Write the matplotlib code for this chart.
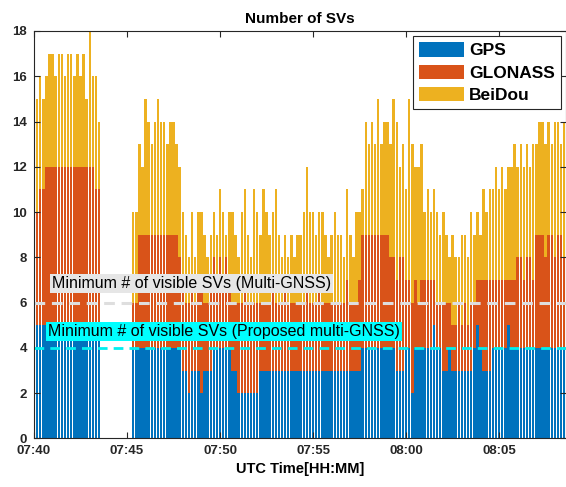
import matplotlib
matplotlib.use('Agg')
import matplotlib.pyplot as plt
import numpy as np

plt.rcParams['font.family'] = ['Liberation Sans', 'DejaVu Sans']

# one epoch every 10 s starting 07:40:00 (gap 07:43:40 - 07:45:10 = no data)
gps = [5,5,5,5,5,5,5,5,5,5, 5,5,5,5,5,5,5,5,5,5, 5,5,
       0,0,0,0,0,0,0,0,0,0,
       4,4,4,4,4,4,4,4,4,4, 4,4,4,4,4,4,3,3,2,3, 3,3,2,3,3,3,
       4,4,4,4,4,4,3,3,2,2, 2,2,2,2,2,3,3,3,3,3, 3,3,3,3,3,3,3,3,3,3,
       3,3,3,3,3,3,3,3,3,3, 3,3,3,3,3,3,3,3,4,4, 4,4,4,4,4,4,4,4,
       4,3,3,3,4,4,2,4,4,4, 4,4,4,5,4,4,3,3,4,3, 3,3,3,3,3,3,4,5,4,3,
       3,3,4,4,4,4,4,5,4,4, 4,4,4,4,4,4,4,4,4,4, 4,4,4,4,4,4]
glonass = [6,5,6,6,7,7,7,7,7,7, 7,7,7,7,7,7,7,7,7,7, 6,6,
           0,0,0,0,0,0,0,0,0,0,
           2,2,5,5,5,5,5,5,5,5, 5,5,5,5,5,4,4,3,4,4, 3,4,5,3,3,4,
           4,3,4,3,4,3,3,3,4,4, 5,4,4,4,4,3,3,3,3,4, 3,3,3,4,3,3,3,3,3,3,
           4,3,3,3,4,3,3,3,3,3, 3,3,3,4,3,3,3,4,5,5, 5,5,5,5,5,5,5,4,
           4,4,5,5,3,3,4,3,2,3, 3,3,3,2,2,2,3,3,2,2, 2,3,2,3,2,3,2,2,3,4,
           4,4,3,3,3,3,3,2,3,3, 4,4,3,4,4,3,5,5,5,4, 5,5,4,5,5,4]
beidou = [3,5,5,4,4,5,5,4,5,5, 4,5,5,4,5,4,5,3,6,4, 5,3,
          0,0,0,0,0,0,0,0,0,0,
          4,4,4,3,6,5,4,5,6,5, 5,4,5,5,4,4,3,3,2,3, 2,3,3,3,2,2,
          2,2,3,3,1,3,4,3,2,4, 4,3,2,5,4,3,5,4,3,3, 5,3,2,2,2,3,2,3,3,4,
          5,4,4,3,3,4,3,2,3,4, 3,3,2,4,3,2,4,3,2,5, 4,5,4,6,4,5,5,5,
          7,7,4,5,4,8,7,5,6,6, 3,4,3,4,4,3,4,3,2,4, 3,2,4,3,3,4,3,3,2,4,
          3,4,4,5,4,5,4,5,5,6, 4,5,5,5,4,6,4,5,5,5, 5,4,6,5,4,6]

tick_labels = ['07:40', '07:45', '07:50', '07:55', '08:00', '08:05']
min_multi = 6
min_proposed = 4

gps = np.array(gps)
glonass = np.array(glonass)
beidou = np.array(beidou)
t = np.arange(len(gps)) * 10 / 60.0  # minutes after 07:40
w = 0.8 * 10 / 60.0

c_gps = '#0072BD'
c_glo = '#D95319'
c_bds = '#EDB120'

fig = plt.figure(figsize=(5.66, 4.87), dpi=100)
ax = fig.add_axes([0.0601, 0.0996, 0.94, 0.8368])

ax.bar(t, gps, width=w, color=c_gps, linewidth=0, label='GPS')
ax.bar(t, glonass, width=w, bottom=gps, color=c_glo, linewidth=0, label='GLONASS')
ax.bar(t, beidou, width=w, bottom=gps + glonass, color=c_bds, linewidth=0, label='BeiDou')

ax.axhline(min_multi, color='#dedede', lw=2.2, ls=(0, (3.5, 2.2)))
ax.axhline(min_proposed, color='#00f0f0', lw=2.0, ls=(0, (3.5, 2.2)))

ax.text(0.97, 6.85, 'Minimum # of visible SVs (Multi-GNSS)', fontsize=11.5,
        va='center', ha='left', color='black',
        bbox=dict(facecolor='#e6e6e6', edgecolor='none', pad=1.5))
ax.text(0.75, 4.72, 'Minimum # of visible SVs (Proposed multi-GNSS)', fontsize=11.5,
        va='center', ha='left', color='black',
        bbox=dict(facecolor='#00ffff', edgecolor='none', pad=1.5))

ax.set_xlim(0, 28.6)
ax.set_ylim(0, 18)
ax.set_xticks(np.arange(len(tick_labels)) * 5)
ax.set_xticklabels(tick_labels)
ax.set_yticks(np.arange(0, 19, 2))
ax.tick_params(direction='in', top=True, right=True, length=4, width=0.8,
               colors='#262626', labelsize=9.5, pad=5)
for lab in ax.get_xticklabels() + ax.get_yticklabels():
    lab.set_fontweight('bold')
for s in ax.spines.values():
    s.set_color('#262626')
    s.set_linewidth(0.8)

ax.set_title('Number of SVs', fontsize=11, fontweight='bold', pad=6)
ax.set_xlabel('UTC Time[HH:MM]', fontsize=10.5, fontweight='bold', labelpad=3)

leg = ax.legend(loc='upper right', fontsize=12.5, prop={'weight': 'bold', 'size': 12.5},
                fancybox=False, framealpha=1, edgecolor='#262626',
                handlelength=2.6, handleheight=0.9, labelspacing=0.35,
                handletextpad=0.3, borderaxespad=0.3, borderpad=0.35)
leg.get_frame().set_linewidth(0.8)

fig.savefig('out.png', dpi=100)
